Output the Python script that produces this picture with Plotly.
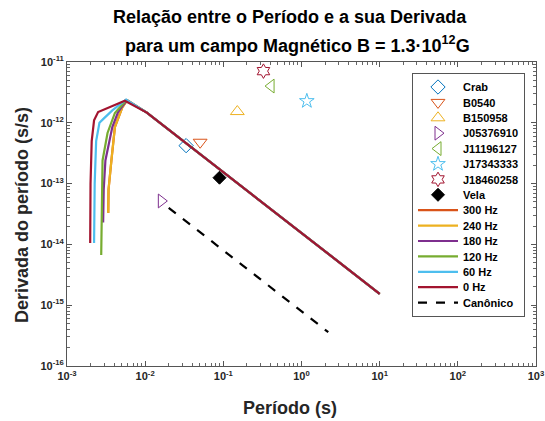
import plotly.graph_objects as go

# ---- Data ----
pulsar_names = ["Crab", "B0540", "B150958", "J05376910", "J11196127", "J17343333", "J18460258", "Vela"]
pulsar_P = [0.0334, 0.0505, 0.151, 0.0161, 0.408, 1.17, 0.326, 0.0893]
pulsar_Pdot = [4.21e-13, 4.79e-13, 1.53e-12, 5.18e-14, 4.02e-12, 2.28e-12, 7.08e-12, 1.25e-13]

tail_P = [0.0105, 10.0]
tail_Pdot = [1.47e-12, 1.54e-15]

P_300 = [0.00337, 0.0034, 0.0037, 0.0041, 0.0051, 0.0059]
D_300 = [3.3e-14, 8e-14, 2.4e-13, 8.5e-13, 1.8e-12, 2.35e-12]
P_240 = [0.00337, 0.0034, 0.0037, 0.0041, 0.0051, 0.0059]
D_240 = [3.3e-14, 8e-14, 2.4e-13, 8.5e-13, 1.8e-12, 2.35e-12]
P_180 = [0.0029, 0.00295, 0.0031, 0.0038, 0.0045, 0.0058]
D_180 = [2.3e-14, 8e-14, 2.4e-13, 8.5e-13, 1.5e-12, 2.35e-12]
P_120 = [0.00274, 0.00278, 0.00285, 0.0033, 0.0041, 0.0057]
D_120 = [6.7e-15, 5e-14, 2.4e-13, 6.8e-13, 1.45e-12, 2.35e-12]
P_60 = [0.00222, 0.00226, 0.00236, 0.0026, 0.0029, 0.0038, 0.0057]
D_60 = [1.05e-14, 1e-13, 5e-13, 1e-12, 1.15e-12, 1.6e-12, 2.4e-12]
P_0 = [0.00198, 0.002, 0.00207, 0.00222, 0.0025, 0.0055]
D_0 = [1.05e-14, 1e-13, 5e-13, 1.1e-12, 1.5e-12, 2.3e-12]

canon_P = [0.02, 2.2]
canon_Pdot = [4.0e-14, 3.6e-16]

x_decades = [-3, -2, -1, 0, 1, 2, 3]
y_decades = [-16, -15, -14, -13, -12, -11]
x_tickvals = [10.0 ** e for e in x_decades]
x_ticktext = ["10<sup>%d</sup>" % e for e in x_decades]
y_tickvals = [10.0 ** e for e in y_decades]
y_ticktext = ["10<sup>%d</sup>" % e for e in y_decades]
x_minor = [k * 10.0 ** e for e in x_decades[:-1] for k in range(2, 10)]
y_minor = [k * 10.0 ** e for e in y_decades[:-1] for k in range(2, 10)]

title_line1 = "Relação entre o Período e a sua Derivada"
title_line2 = "para um campo Magnético B = 1.3·10<sup>12</sup>G"
x_title = "Período (s)"
y_title = "Derivada do período (s/s)"

# ---- Styles ----
marker_styles = [
    ("diamond-open", "#0072BD", 11),
    ("triangle-down-open", "#D95319", 12),
    ("triangle-up-open", "#EDB120", 12),
    ("triangle-right-open", "#7E2F8E", 12),
    ("triangle-left-open", "#77AC30", 12),
    ("star-open", "#4DBEEE", 11),
    ("hexagram-open", "#A2142F", 11),
    ("diamond", "#000000", 10),
]

fig = go.Figure()
for name, p, pd_, (sym, col, sz) in zip(pulsar_names, pulsar_P, pulsar_Pdot, marker_styles):
    fig.add_trace(go.Scatter(x=[p], y=[pd_], mode="markers", name=name,
                             marker=dict(symbol=sym, size=sz, color=col,
                                         line=dict(color=col, width=1))))

curves = [
    ("300 Hz", P_300, D_300, "#D95319"),
    ("240 Hz", P_240, D_240, "#EDB120"),
    ("180 Hz", P_180, D_180, "#7E2F8E"),
    ("120 Hz", P_120, D_120, "#77AC30"),
    ("60 Hz", P_60, D_60, "#4DBEEE"),
    ("0 Hz", P_0, D_0, "#A2142F"),
]
for name, px, py, col in curves:
    fig.add_trace(go.Scatter(x=px + tail_P, y=py + tail_Pdot, mode="lines", name=name,
                             line=dict(color=col, width=2.2)))

fig.add_trace(go.Scatter(x=canon_P, y=canon_Pdot, mode="lines", name="Canônico",
                         line=dict(color="black", width=2.2, dash="dash")))

font_family = "Liberation Sans, Arial, sans-serif"
axis_common = dict(type="log", showgrid=False, zeroline=False, showline=True,
                   linecolor="#555555", linewidth=1, mirror="allticks",
                   ticks="inside", ticklen=5, tickcolor="#555555", automargin=False,
                   tickfont=dict(family=font_family, size=11, color="#262626", weight="bold"))

L, R, T, B = 67, 9, 62, 55
W, H = 545, 421
pw, ph = W - L - R, H - T - B

def px2paper_x(px):
    return (px - L) / pw

def px2paper_y(py):
    return (H - B - py) / ph

annotations = [
    dict(text=title_line1, x=px2paper_x(290), y=px2paper_y(17), xref="paper", yref="paper",
         xanchor="center", yanchor="middle", showarrow=False,
         font=dict(family=font_family, size=18, color="#000000", weight="bold")),
    dict(text=title_line2, x=px2paper_x(297), y=px2paper_y(44), xref="paper", yref="paper",
         xanchor="center", yanchor="middle", showarrow=False,
         font=dict(family=font_family, size=18, color="#000000", weight="bold")),
    dict(text=x_title, x=px2paper_x(290), y=px2paper_y(408), xref="paper", yref="paper",
         xanchor="center", yanchor="middle", showarrow=False,
         font=dict(family=font_family, size=18, color="#262626", weight="bold")),
    dict(text=y_title, x=px2paper_x(22), y=px2paper_y(215), xref="paper", yref="paper",
         xanchor="center", yanchor="middle", showarrow=False, textangle=-90,
         font=dict(family=font_family, size=18, color="#262626", weight="bold")),
]

fig.update_layout(
    width=W, height=H,
    margin=dict(l=L, r=R, t=T, b=B),
    paper_bgcolor="white", plot_bgcolor="white",
    font=dict(family=font_family, color="#000000"),
    xaxis=dict(axis_common, range=[-3, 3], tickvals=x_tickvals, ticktext=x_ticktext,
               minor=dict(tickmode="array", tickvals=x_minor, ticks="inside", ticklen=3,
                          tickcolor="#666666", showgrid=False)),
    yaxis=dict(axis_common, range=[-16, -11], tickvals=y_tickvals, ticktext=y_ticktext,
               minor=dict(tickmode="array", tickvals=y_minor, ticks="inside", ticklen=3,
                          tickcolor="#666666", showgrid=False)),
    legend=dict(x=px2paper_x(525), y=px2paper_y(73), xanchor="right", yanchor="top",
                bgcolor="white", bordercolor="#555555", borderwidth=1,
                font=dict(family=font_family, size=11, color="#000000", weight="bold"),
                itemwidth=40, tracegroupgap=0),
    annotations=annotations,
    showlegend=True,
)

# Tighten legend row spacing (Plotly's minimum row height is 19px; reference uses ~15.4px)
post_js = """
try {
  var gd = document.getElementById('{plot_id}');
  var step = 15.4;
  var tr = gd.querySelectorAll('g.legend g.traces');
  var ys = [], xs = [];
  tr.forEach(function(el){
    var t = el.getAttribute('transform') || '';
    var m = t.match(/translate\\(\\s*([-\\d.e]+)[\\s,]+([-\\d.e]+)\\s*\\)/);
    if (m) { xs.push(parseFloat(m[1])); ys.push(parseFloat(m[2])); }
    else { xs.push(null); ys.push(null); }
  });
  if (tr.length > 1 && ys[0] !== null && ys[1] !== null) {
    var d = ys[1] - ys[0];
    var shrink = (tr.length - 1) * (d - step);
    var y0 = ys[0] - 1.5;
    tr.forEach(function(el, i){
      if (xs[i] === null) return;
      el.setAttribute('transform', 'translate(' + xs[i] + ',' + (y0 + i * step) + ')');
    });
    var bg = gd.querySelector('g.legend rect.bg');
    if (bg) {
      var h = parseFloat(bg.getAttribute('height'));
      bg.setAttribute('height', h - shrink - 3);
    }
  }
} catch (e) {}
"""

fig.write_html("out.html", post_script=post_js)
